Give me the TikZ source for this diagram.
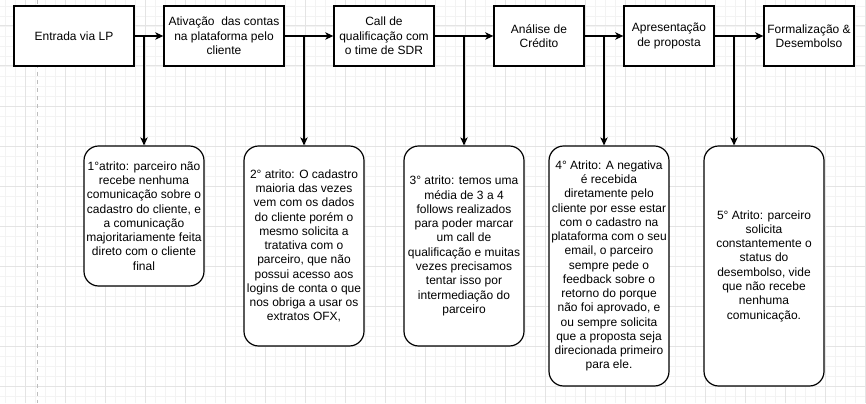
\documentclass[tikz,border=0pt]{standalone}
\usepackage{fontspec}
\setmainfont{Liberation Sans}
\usetikzlibrary{arrows.meta}
\definecolor{gridmajor}{HTML}{E4E4E4}
\definecolor{gridminor}{HTML}{F3F3F3}
\definecolor{pageline}{HTML}{BDBDBD}
\tikzset{
  topbox/.style={draw=black, line width=1pt, fill=white, align=center, inner sep=1pt,
    font=\fontsize{9pt}{10.8pt}\selectfont, minimum height=45pt},
  attrbox/.style={draw=black, line width=0.9pt, fill=white, rounded corners=11pt, align=center,
    inner sep=1pt, font=\fontsize{9pt}{10.7pt}\selectfont, minimum width=90pt},
  arr/.style={draw=black, line width=0.9pt, -{Stealth[length=6pt, width=5.5pt, inset=1.6pt]}},
  flow/.style={draw=black, line width=0.9pt}
}
\begin{document}
\begin{tikzpicture}[x=0.75pt, y=-0.75pt]
\useasboundingbox (0,0) rectangle (866,403);
\fill[white] (0,0) rectangle (866,403);
% background grid
\foreach \gx in {5,15,...,865} \draw[gridminor, line width=0.6pt] (\gx,0) -- (\gx,403);
\foreach \gy in {6,16,...,402} \draw[gridminor, line width=0.6pt] (0,\gy) -- (866,\gy);
\foreach \gx in {25,65,...,865} \draw[gridmajor, line width=0.75pt] (\gx,0) -- (\gx,403);
\foreach \gy in {26,66,...,402} \draw[gridmajor, line width=0.75pt] (0,\gy) -- (866,\gy);
\draw[pageline, line width=0.75pt, dash pattern=on 3pt off 3pt] (37.5,0) -- (37.5,403);

% top process boxes
\node[topbox, minimum width=90pt] (s1) at (74,36) {Entrada via LP};
\node[topbox, minimum width=90pt] (s2) at (224,36) {Ativação\ \ das contas\\na plataforma pelo\\cliente};
\node[topbox, minimum width=75pt] (s3) at (384,36) {Call de\\qualificação com\\o time de SDR};
\node[topbox, minimum width=67.5pt] (s4) at (539,36) {Análise de\\Crédito};
\node[topbox, minimum width=67.5pt] (s5) at (669,36) {Apresentação\\de proposta};
\node[topbox, minimum width=67.5pt] (s6) at (809,36) {Formalização \&\\Desembolso};

% friction boxes
\node[attrbox, minimum height=105pt] (a1) at (144,216) {1°atrito: parceiro não\\recebe nenhuma\\comunicação sobre o\\cadastro do cliente, e\\a comunicação\\majoritariamente feita\\direto com o cliente\\final};
\node[attrbox, minimum height=150pt] (a2) at (304,246) {2° atrito: O cadastro\\maioria das vezes\\vem com os dados\\do cliente porém o\\mesmo solicita a\\tratativa com o\\parceiro, que não\\possui acesso aos\\logins de conta o que\\nos obriga a usar os\\extratos OFX,};
\node[attrbox, minimum height=150pt] (a3) at (464,246) {3° atrito: temos uma\\média de 3 a 4\\follows realizados\\para poder marcar\\um call de\\qualificação e muitas\\vezes precisamos\\tentar isso por\\intermediação do\\parceiro};
\node[attrbox, minimum height=180pt] (a4) at (609,266) {4° Atrito: A negativa\\é recebida\\diretamente pelo\\cliente por esse estar\\com o cadastro na\\plataforma com o seu\\email, o parceiro\\sempre pede o\\feedback sobre o\\retorno do porque\\não foi aprovado, e\\ou sempre solicita\\que a proposta seja\\direcionada primeiro\\para ele.};
\node[attrbox, minimum height=180pt] (a5) at (764,266) {5° Atrito: parceiro\\solicita\\constantemente o\\status do\\desembolso, vide\\que não recebe\\nenhuma\\comunicação.};

% junctions on the flow line
\coordinate (j1) at (144,36);
\coordinate (j2) at (304,36);
\coordinate (j3) at (464,36);
\coordinate (j4) at (604,36);
\coordinate (j5) at (734,36);

% flow arrows
\draw[arr] (s1.east) -- (s2.west);
\draw[arr] (s2.east) -- (s3.west);
\draw[arr] (s3.east) -- (s4.west);
\draw[arr] (s4.east) -- (s5.west);
\draw[arr] (s5.east) -- (s6.west);

% branches
\draw[arr] (j1) -- (j1 |- a1.north);
\draw[arr] (j2) -- (j2 |- a2.north);
\draw[arr] (j3) -- (j3 |- a3.north);
\draw[arr] (j4) -- (j4 |- a4.north);
\draw[arr] (j5) -- (j5 |- a5.north);
\end{tikzpicture}
\end{document}
